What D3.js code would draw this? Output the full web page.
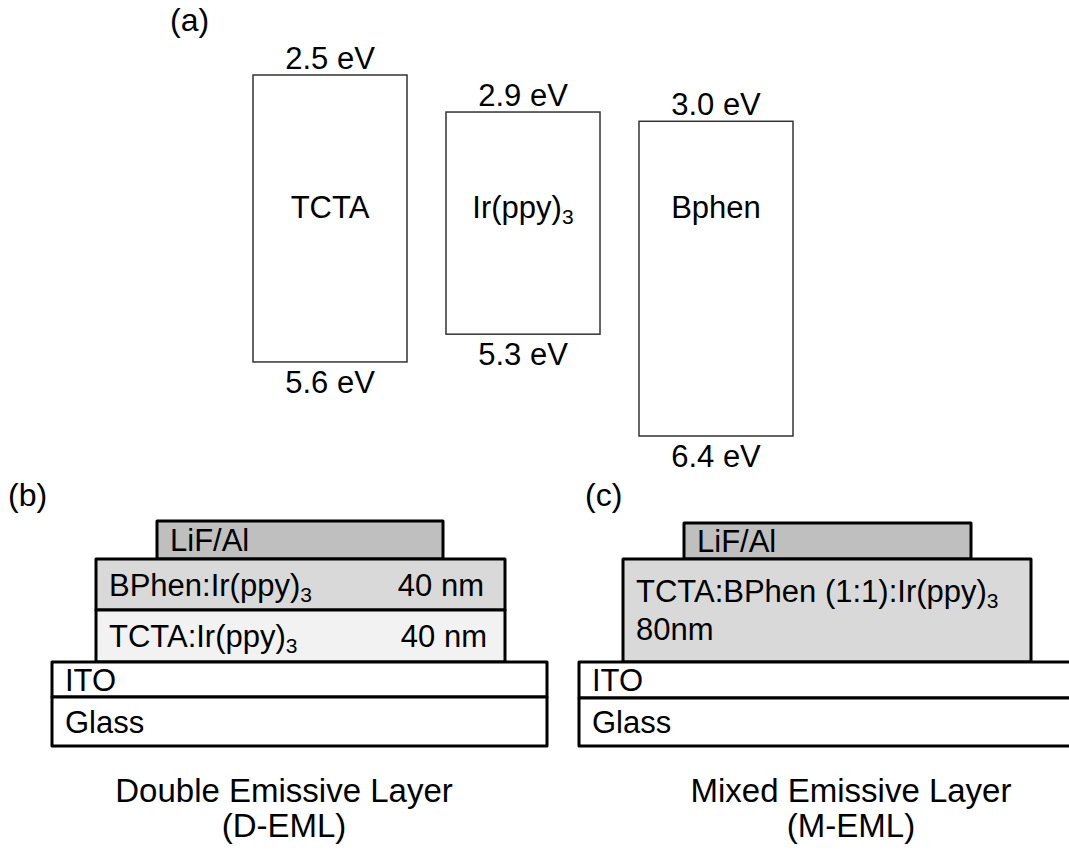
<!DOCTYPE html>
<html>
<head>
<meta charset="utf-8">
<script src="https://cdn.jsdelivr.net/npm/d3@7"></script>
<style>
  html, body { margin: 0; padding: 0; background: #ffffff; }
  svg { display: block; font-family: "Liberation Sans", Arial, Helvetica, sans-serif; }
</style>
</head>
<body>
<svg id="chart" width="1069" height="856"></svg>
<script>
// ---------------- DATA ----------------
// (a) energy levels (eV)
const materials = ["TCTA", "Ir(ppy)_3", "Bphen"];
const lumoLevels = [2.5, 2.9, 3.0];
const homoLevels = [5.6, 5.3, 6.4];

// (b) double emissive layer device stack (top to bottom)
const dLayerNames = ["LiF/Al", "BPhen:Ir(ppy)_3", "TCTA:Ir(ppy)_3", "ITO", "Glass"];
const dLayerThickness = ["", "40 nm", "40 nm", "", ""];
const dLayerFills = ["#bfbfbf", "#d9d9d9", "#f2f2f2", "#ffffff", "#ffffff"];

// (c) mixed emissive layer device stack (top to bottom)
const mLayerNames = ["LiF/Al", "TCTA:BPhen (1:1):Ir(ppy)_3", "ITO", "Glass"];
const mLayerThickness = ["", "80nm", "", ""];
const mLayerFills = ["#bfbfbf", "#d9d9d9", "#ffffff", "#ffffff"];

const panelLabels = ["(a)", "(b)", "(c)"];
const deviceTitles = [["Double Emissive Layer", "(D-EML)"], ["Mixed Emissive Layer", "(M-EML)"]];

// ---------------- LAYOUT ----------------
const svg = d3.select("#chart");
const FONT = 31;

// helper: text with "_x" subscript
function richText(sel, str, size) {
  const parts = str.split("_");
  sel.append("tspan").text(parts[0]);
  if (parts.length > 1) {
    sel.append("tspan").attr("font-size", 21).attr("dy", 6).text(parts[1]);
  }
}

// panel labels
const panelPos = [[170, 31], [8, 506], [585, 506]];
svg.selectAll("text.panel").data(panelLabels).join("text")
  .attr("class", "panel")
  .attr("x", (d, i) => panelPos[i][0])
  .attr("y", (d, i) => panelPos[i][1])
  .attr("font-size", 32)
  .attr("fill", "#000")
  .text(d => d);

// ---- (a) energy diagram ----
const xA = d3.scaleBand().domain(materials).range([253, 793]).paddingInner(0.202).paddingOuter(0);
const yE = d3.scaleLinear().domain([2.5, 6.4]).range([75, 436]);
const levels = materials.map((m, i) => ({ name: m, lumo: lumoLevels[i], homo: homoLevels[i] }));

const gA = svg.append("g");
gA.selectAll("rect").data(levels).join("rect")
  .attr("x", d => xA(d.name))
  .attr("y", d => yE(d.lumo))
  .attr("width", xA.bandwidth())
  .attr("height", d => yE(d.homo) - yE(d.lumo))
  .attr("fill", "#fff")
  .attr("stroke", "#333")
  .attr("stroke-width", 1.5);

gA.selectAll("text.lumo").data(levels).join("text")
  .attr("class", "lumo")
  .attr("x", d => xA(d.name) + xA.bandwidth() / 2)
  .attr("y", d => yE(d.lumo) - 6)
  .attr("text-anchor", "middle")
  .attr("font-size", FONT)
  .text(d => d.lumo.toFixed(1) + " eV");

gA.selectAll("text.homo").data(levels).join("text")
  .attr("class", "homo")
  .attr("x", d => xA(d.name) + xA.bandwidth() / 2)
  .attr("y", d => yE(d.homo) + 31)
  .attr("text-anchor", "middle")
  .attr("font-size", FONT)
  .text(d => d.homo.toFixed(1) + " eV");

gA.selectAll("text.mat").data(levels).join("text")
  .attr("class", "mat")
  .attr("x", d => xA(d.name) + xA.bandwidth() / 2)
  .attr("y", 218)
  .attr("text-anchor", "middle")
  .attr("font-size", FONT)
  .each(function (d) { richText(d3.select(this), d.name, FONT); });

// ---- (b), (c) device stacks ----
function drawStack(names, thick, fills, yBounds, xExtents, thickX, opts) {
  const g = svg.append("g");
  const layers = names.map((n, i) => ({
    name: n, thick: thick[i], fill: fills[i],
    y0: yBounds[i], y1: yBounds[i + 1], x0: xExtents[i][0], x1: xExtents[i][1], tx: thickX[i]
  }));
  g.selectAll("rect").data(layers).join("rect")
    .attr("x", d => d.x0).attr("y", d => d.y0)
    .attr("width", d => d.x1 - d.x0).attr("height", d => d.y1 - d.y0)
    .attr("fill", d => d.fill)
    .attr("stroke", "#000").attr("stroke-width", 3).attr("stroke-linejoin", "round");

  layers.forEach(d => {
    const cy = (d.y0 + d.y1) / 2 + 11;
    if (opts.twoLine && d.thick && opts.twoLine === d.name) {
      const t = g.append("text").attr("x", d.x0 + 13).attr("y", d.y0 + 43).attr("font-size", FONT);
      richText(t, d.name, FONT);
      g.append("text").attr("x", d.x0 + 13).attr("y", d.y0 + 81).attr("font-size", FONT).text(d.thick);
    } else {
      const t = g.append("text").attr("x", d.x0 + 13).attr("y", cy).attr("font-size", FONT);
      richText(t, d.name, FONT);
      if (d.thick) {
        g.append("text").attr("x", d.tx).attr("y", cy).attr("text-anchor", "end")
          .attr("font-size", FONT).text(d.thick);
      }
    }
  });
}

drawStack(dLayerNames, dLayerThickness, dLayerFills,
  [521, 559, 610, 662, 697, 746],
  [[157, 443], [96, 505], [96, 505], [52, 547], [52, 547]],
  [0, 484, 487, 0, 0], {});

drawStack(mLayerNames, mLayerThickness, mLayerFills,
  [523, 559, 662, 698, 746],
  [[684, 971], [623, 1031], [579, 1085], [579, 1085]],
  [0, 0, 0, 0], { twoLine: mLayerNames[1] });

// device titles
const titleX = [284, 851];
deviceTitles.forEach((lines, i) => {
  lines.forEach((line, j) => {
    svg.append("text")
      .attr("x", titleX[i]).attr("y", 802 + j * 35)
      .attr("text-anchor", "middle").attr("font-size", 33)
      .text(line);
  });
});
</script>
</body>
</html>
